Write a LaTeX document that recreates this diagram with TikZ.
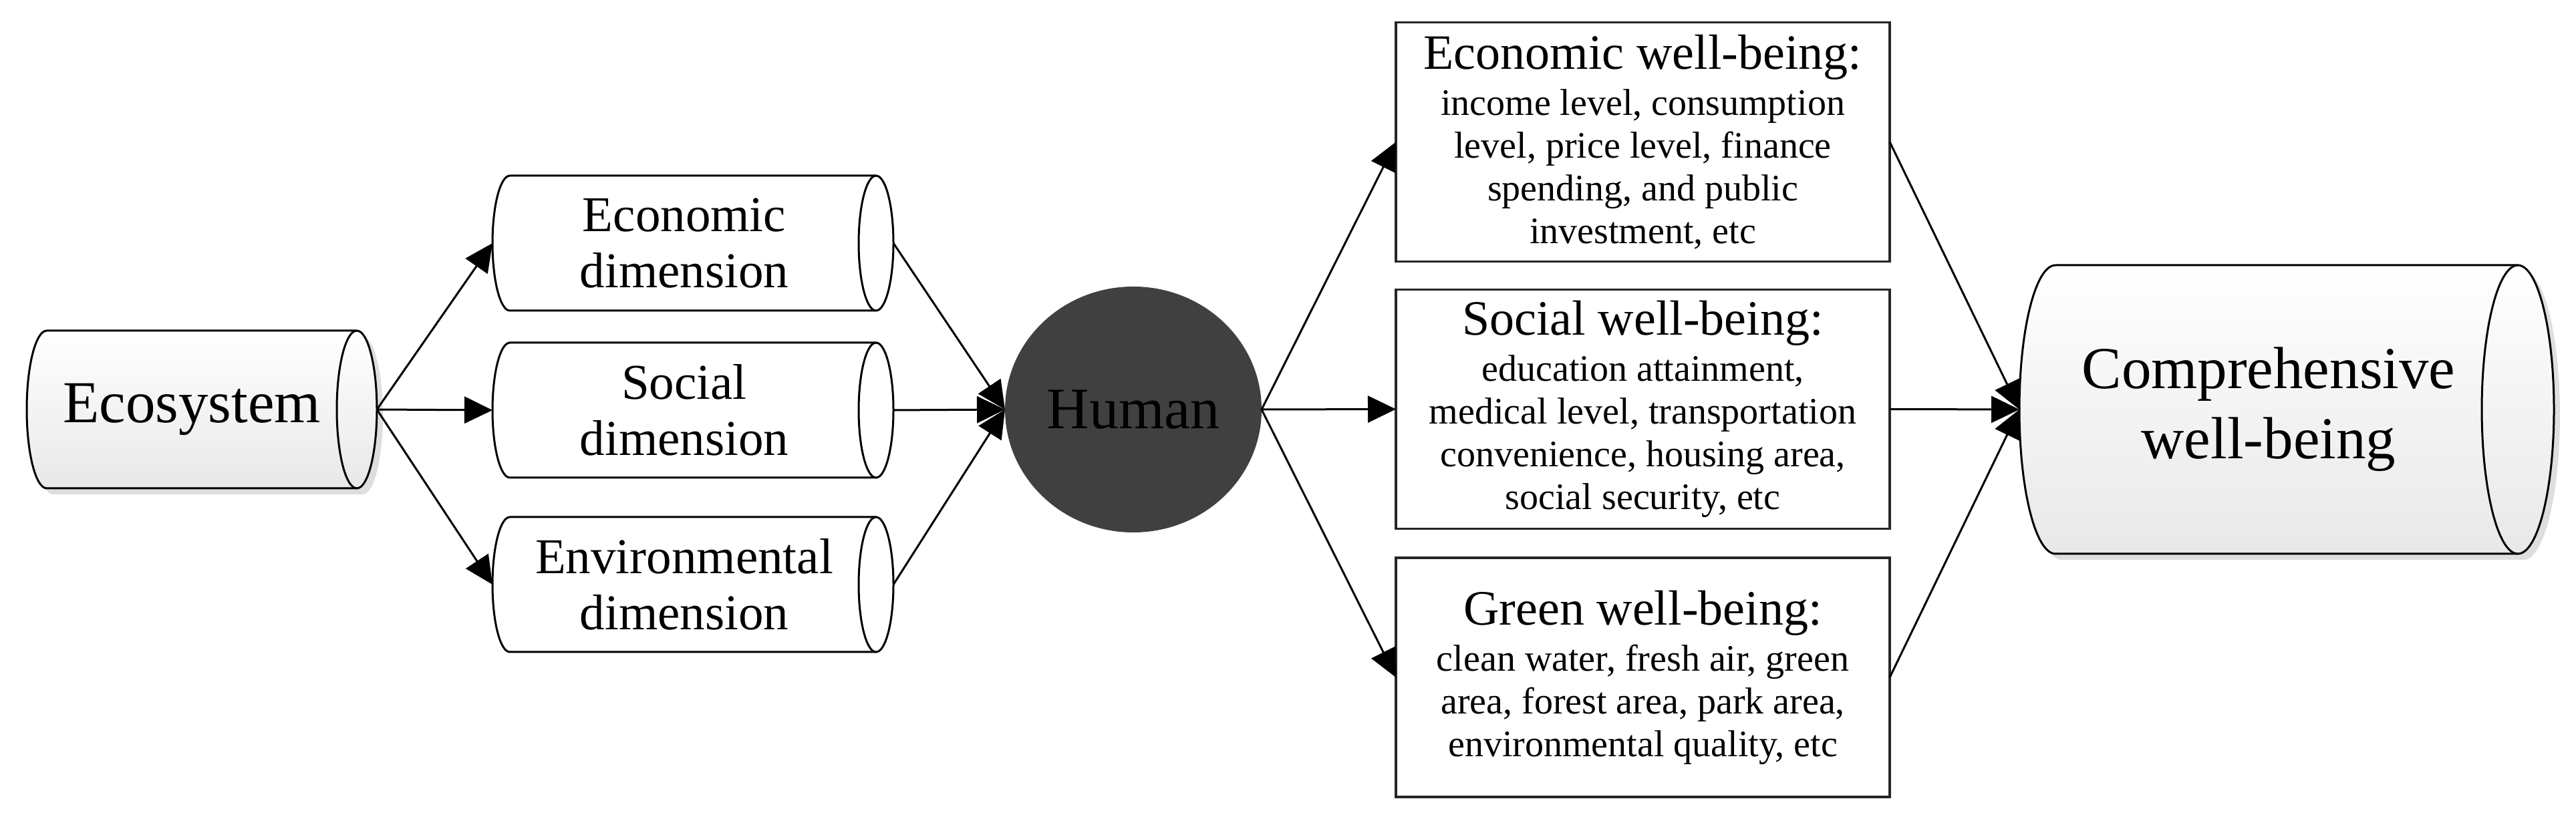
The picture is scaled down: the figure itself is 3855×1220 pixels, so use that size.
\documentclass[tikz,border=0pt]{standalone}
\usepackage{fontspec}
\setmainfont{Liberation Serif}
\usetikzlibrary{arrows.meta,backgrounds,shapes.geometric}
\definecolor{humfill}{RGB}{64,64,64}
\newcommand{\cylpath}[3]{([xshift=#2pt]#1.north west) -- (#1.north east) arc[start angle=90,end angle=-90,x radius=#2pt,y radius=#3pt] -- ([xshift=#2pt]#1.south west) arc[start angle=270,end angle=90,x radius=#2pt,y radius=#3pt] -- cycle}
\newcommand{\cylinner}[3]{(#1.north east) arc[start angle=90,end angle=270,x radius=#2pt,y radius=#3pt]}
\begin{document}
\begin{tikzpicture}[x=1pt,y=1pt,
  cyl/.style={rectangle, draw=none, inner sep=0pt, outer sep=0pt, align=center},
  dimtext/.style={font=\fontsize{75}{84}\selectfont},
  wbox/.style={rectangle, draw=black!85, line width=3.5pt, fill=white, minimum width=739pt, minimum height=358pt, inner sep=0pt, outer sep=0pt, align=center, font=\fontsize{56}{64}\selectfont},
  arr/.style={line width=3pt, -{Triangle[length=42pt,width=40pt]}},
  outl/.style={draw=black, line width=3pt},
  grad/.style={top color=white, bottom color=black!9},
  shad/.style={fill=black!13, transform canvas={shift={(9pt,-9pt)}}},
]
\useasboundingbox (0,0) rectangle (3855,1220);

% nodes
\node[cyl, minimum width=494pt, minimum height=236pt, font=\fontsize{89}{100}\selectfont] (eco) at (287,607) {Ecosystem};
\node[cyl, dimtext, minimum width=574pt, minimum height=202pt] (ecod) at (1024,856) {Economic\\dimension};
\node[cyl, dimtext, minimum width=574pt, minimum height=202pt] (socd) at (1024,606) {Social\\dimension};
\node[cyl, dimtext, minimum width=574pt, minimum height=202pt] (envd) at (1024,345) {Environmental\\dimension};
\node[ellipse, fill=humfill, minimum width=384pt, minimum height=368pt, inner sep=0pt, outer sep=0pt, font=\fontsize{88}{100}\selectfont] (hum) at (1696,607) {Human};
\node[wbox] (ewb) at (2458.5,1007.5) {{\fontsize{74}{64}\selectfont Economic well-being:}\\[5pt]income level, consumption\\level, price level, finance\\spending, and public\\investment, etc};
\node[wbox] (swb) at (2458.5,607.5) {{\fontsize{74}{64}\selectfont Social well-being:}\\[5pt]education attainment,\\medical level, transportation\\convenience, housing area,\\social security, etc};
\node[wbox] (gwb) at (2458.5,206) {{\fontsize{74}{64}\selectfont Green well-being:}\\[5pt]clean water, fresh air, green\\area, forest area, park area,\\environmental quality, etc};
\node[cyl, minimum width=746pt, minimum height=432pt, font=\fontsize{89}{105}\selectfont] (comp) at (3395,607) {Comprehensive\\well-being};

% cylinder bodies
\begin{pgfonlayer}{background}
  \fill[shad] \cylpath{eco}{30}{118};
  \path[outl, grad] \cylpath{eco}{30}{118};
  \draw[outl] \cylinner{eco}{30}{118};
  \fill[shad] \cylpath{comp}{54}{216};
  \path[outl, grad] \cylpath{comp}{54}{216};
  \draw[outl] \cylinner{comp}{54}{216};
  \path[outl, fill=white] \cylpath{ecod}{26}{101};
  \draw[outl] \cylinner{ecod}{26}{101};
  \path[outl, fill=white] \cylpath{socd}{26}{101};
  \draw[outl] \cylinner{socd}{26}{101};
  \path[outl, fill=white] \cylpath{envd}{26}{101};
  \draw[outl] \cylinner{envd}{26}{101};
\end{pgfonlayer}

% connectors
\draw[arr] ([xshift=30pt]eco.east) -- (ecod.west);
\draw[arr] ([xshift=30pt]eco.east) -- (socd.west);
\draw[arr] ([xshift=30pt]eco.east) -- (envd.west);
\draw[arr] ([xshift=26pt]ecod.east) -- (hum.west);
\draw[arr] ([xshift=26pt]socd.east) -- (hum.west);
\draw[arr] ([xshift=26pt]envd.east) -- (hum.west);
\draw[arr] (hum.east) -- (ewb.west);
\draw[arr] (hum.east) -- (swb.west);
\draw[arr] (hum.east) -- (gwb.west);
\draw[arr] (ewb.east) -- (comp.west);
\draw[arr] (swb.east) -- (comp.west);
\draw[arr] (gwb.east) -- (comp.west);
\end{tikzpicture}
\end{document}
